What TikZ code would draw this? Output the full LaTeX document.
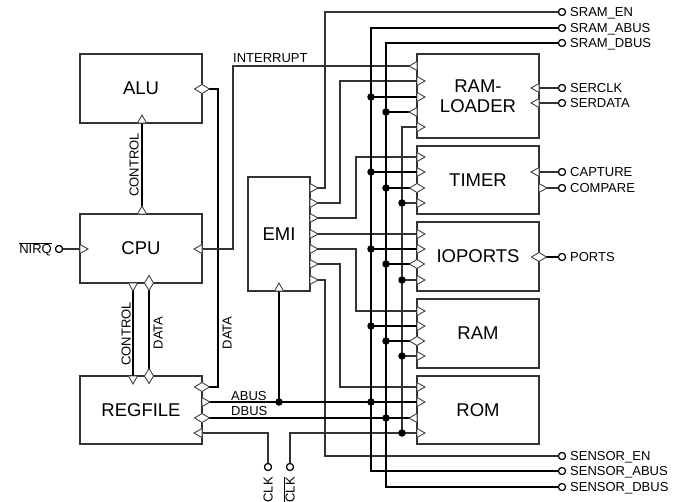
\documentclass[tikz,border=0pt]{standalone}
\usepackage{fontspec}
\setmainfont{Liberation Sans}
\usetikzlibrary{calc}
\begin{document}
\begin{tikzpicture}[x=1pt,y=-1pt,
  thinwire/.style={draw=black!80,line width=1.2pt},
  bus/.style={draw=black,line width=2.8pt},
  block/.style={draw=black!80,line width=1.2pt,fill=white,inner sep=0pt,
    font=\fontsize{18.5}{20}\selectfont,align=center},
  portst/.style={draw=black!75,line width=0.9pt,fill=white,line join=miter},
  dot/.style={circle,fill=black,inner sep=0pt,minimum size=7.5pt},
  pin/.style={circle,draw=black,line width=1.1pt,fill=white,inner sep=0pt,minimum size=7pt},
  lbl/.style={font=\fontsize{13}{14}\selectfont,inner sep=0pt},
  pics/tri/.style={code={\filldraw[portst] (0,-4.5) -- (8,0) -- (0,4.5) -- cycle;}},
  pics/dia/.style={code={\filldraw[portst] (-7.5,0) -- (0,-4.5) -- (7.5,0) -- (0,4.5) -- cycle;}},
]
\useasboundingbox (0,0) rectangle (679,501);

% ---------- blocks
\node[block,minimum width=122pt,minimum height=69pt] (alu) at (141,88.5) {ALU};
\node[block,minimum width=122pt,minimum height=69pt] (cpu) at (141,248.5) {CPU};
\node[block,minimum width=122pt,minimum height=68pt] (regfile) at (141,410) {REGFILE};
\node[block,minimum width=62pt,minimum height=114pt] (emi) at (279,234) {EMI};
\node[block,minimum width=122pt,minimum height=84pt] (ramloader) at (478,96) {RAM-\\LOADER};
\node[block,minimum width=122pt,minimum height=68pt] (timer) at (478,180) {TIMER};
\node[block,minimum width=122pt,minimum height=69pt] (ioports) at (478,256.5) {IOPORTS};
\node[block,minimum width=122pt,minimum height=69pt] (ram) at (478,333.5) {RAM};
\node[block,minimum width=122pt,minimum height=68pt] (rom) at (478,410) {ROM};

% ---------- port coordinates
\coordinate (aluD) at (202,89);
\coordinate (aluC) at (142,123);
\coordinate (cpuC) at (142,214);
\coordinate (cpuI) at (202,249);
\coordinate (cpuN) at (80,249);
\coordinate (cpuC2) at (133,283);
\coordinate (cpuDt) at (149,283);
\coordinate (rfC) at (133,376);
\coordinate (rfDt) at (149,376);
\coordinate (rfD) at (202,387);
\coordinate (rfA) at (202,402);
\coordinate (rfDB) at (202,418);
\coordinate (rfK) at (202,433);
\foreach \n/\y in {1/188,2/203,3/218,4/234,5/249,6/264,7/280}{\coordinate (e\n) at (310,\y);}
\coordinate (emiB) at (279,291);
\foreach \n/\y in {1/66,2/81,3/97,4/112,5/127}{\coordinate (rl\n) at (417,\y);}
\foreach \n/\y in {1/157,2/172,3/188,4/203}{\coordinate (tm\n) at (417,\y);}
\foreach \n/\y in {1/234,2/249,3/264,4/280}{\coordinate (io\n) at (417,\y);}
\foreach \n/\y in {1/311,2/326,3/341,4/356}{\coordinate (ram\n) at (417,\y);}
\foreach \n/\y in {1/387,2/402,3/418,4/433}{\coordinate (rom\n) at (417,\y);}
\coordinate (rlS1) at (539,88);
\coordinate (rlS2) at (539,103);
\coordinate (tmC) at (539,172);
\coordinate (tmP) at (539,188);
\coordinate (ioP) at (539,257);

% bus junctions
\foreach \n/\y in {1/97,2/172,3/249,4/326,5/402}{\coordinate (aD\n) at (371,\y);}
\foreach \n/\y in {1/112,2/188,3/264,4/341,5/418}{\coordinate (dD\n) at (386,\y);}
\foreach \n/\y in {1/203,2/280,3/356,4/433}{\coordinate (cD\n) at (402,\y);}
\coordinate (abusJ) at (279,402);

% ---------- pins
\node[pin] (nirq) at (59,249) {};
\node[pin] (sramen) at (562,12) {};
\node[pin] (sramabus) at (562,28) {};
\node[pin] (sramdbus) at (562,43) {};
\node[pin] (serclk) at (562,88) {};
\node[pin] (serdata) at (562,103) {};
\node[pin] (capture) at (562,172) {};
\node[pin] (compare) at (562,188) {};
\node[pin] (ports) at (562,257) {};
\node[pin] (senen) at (562,456) {};
\node[pin] (senabus) at (562,471) {};
\node[pin] (sendbus) at (562,487) {};
\node[pin] (clkpin) at (268,467) {};
\node[pin] (nclkpin) at (290,467) {};

% ---------- wires
\draw[bus] (aluD) -- ++(16,0) |- (rfD);
\draw[thinwire] (cpuI) -- ++(31,0) |- (rl1);
\draw[bus] (cpuC) -- (aluC);
\draw[bus] (cpuC2) -- (rfC);
\draw[bus] (cpuDt) -- (rfDt);
\draw[thinwire] (nirq) -- (cpuN);

\draw[thinwire] (e1) -- ++(15,0) |- (sramen);
\draw[thinwire] (e2) -- ++(30,0) |- (rl2);
\draw[thinwire] (e3) -- ++(46,0) |- (tm1);
\draw[thinwire] (e4) -- (io1);
\draw[thinwire] (e5) -- ++(46,0) |- (ram1);
\draw[thinwire] (e6) -- ++(30,0) |- (rom1);
\draw[thinwire] (e7) -- ++(15,0) |- (senen);

\draw[thinwire] (rl5) -| (cD4);
\draw[thinwire] (nclkpin) |- (rom4);
\draw[thinwire] (rfK) -| (clkpin);
\foreach \a/\b in {cD1/tm4,cD2/io4,cD3/ram4}{\draw[thinwire] (\a) -- (\b);}

\draw[bus] (emiB) -- (abusJ);
\draw[bus] (rfA) -- (rom2);
\draw[bus] (rfDB) -- (rom3);
\draw[bus] (sramabus) -| (aD3) |- (senabus);
\draw[bus] (sramdbus) -| (dD3) |- (sendbus);
\foreach \a/\b in {aD1/rl3,aD2/tm2,aD3/io2,aD4/ram2}{\draw[bus] (\a) -- (\b);}
\foreach \a/\b in {dD1/rl4,dD2/tm3,dD3/io3,dD4/ram3}{\draw[bus] (\a) -- (\b);}

\draw[thinwire] (rlS1) -- (serclk);
\draw[thinwire] (rlS2) -- (serdata);
\draw[thinwire] (tmC) -- (capture);
\draw[thinwire] (tmP) -- (compare);
\draw[bus] (ioP) -- (ports);

% redraw pins on top
\foreach \p in {nirq,sramen,sramabus,sramdbus,serclk,serdata,capture,compare,ports,senen,senabus,sendbus,clkpin,nclkpin}
  {\node[pin] at (\p) {};}

% ---------- port markers
\pic at (aluD) {dia};
\pic[rotate=90] at (aluC) {tri};
\pic[rotate=90] at (cpuC) {tri};
\pic[rotate=180] at (cpuI) {tri};
\pic at (cpuN) {tri};
\pic[rotate=-90] at (cpuC2) {tri};
\pic[rotate=90] at (cpuDt) {dia};
\pic[rotate=-90] at (rfC) {tri};
\pic[rotate=90] at (rfDt) {dia};
\pic at (rfD) {dia};
\pic at (rfA) {tri};
\pic at (rfDB) {dia};
\pic[rotate=180] at (rfK) {tri};
\foreach \n in {1,...,7}{\pic at (e\n) {tri};}
\pic[rotate=90] at (emiB) {tri};
\pic[rotate=180] at (rl1) {tri};
\pic at (rl2) {tri};
\pic at (rl3) {tri};
\pic[rotate=180] at (rl4) {tri};
\pic at (rl5) {tri};
\foreach \b in {tm,io,ram}{\pic at (\b1) {tri}; \pic at (\b2) {tri}; \pic at (\b3) {dia}; \pic at (\b4) {tri};}
\pic at (rom1) {tri};
\pic at (rom2) {tri};
\pic[rotate=180] at (rom3) {tri};
\pic at (rom4) {tri};
\pic[rotate=180] at (rlS1) {tri};
\pic[rotate=180] at (rlS2) {tri};
\pic[rotate=180] at (tmC) {tri};
\pic at (tmP) {tri};
\pic at (ioP) {dia};

% ---------- junction dots
\foreach \p in {aD1,aD2,aD3,aD4,aD5,dD1,dD2,dD3,dD4,dD5,cD1,cD2,cD3,cD4,abusJ}{\node[dot] at (\p) {};}

% ---------- labels
\node[lbl,anchor=base west] at (233,62) {INTERRUPT};
\node[lbl,anchor=base west] at (231,400) {ABUS};
\node[lbl,anchor=base west] at (231,415.5) {DBUS};
\node[lbl,anchor=base east] at (52,253.7) {$\overline{\mbox{NIRQ}}$};
\node[lbl,rotate=90,anchor=base] at (138.5,165) {CONTROL};
\node[lbl,rotate=90,anchor=base] at (130.5,334) {CONTROL};
\node[lbl,rotate=90,anchor=base] at (162.5,333) {DATA};
\node[lbl,rotate=90,anchor=base] at (231.5,333) {DATA};
\node[lbl,rotate=90,anchor=base east] at (272.7,477) {CLK};
\node[lbl,rotate=90,anchor=base east] at (294.7,477) {$\overline{\mbox{CLK}}$};
\foreach \p/\t in {sramen/SRAM\_EN,sramabus/SRAM\_ABUS,sramdbus/SRAM\_DBUS,serclk/SERCLK,serdata/SERDATA,capture/CAPTURE,compare/COMPARE,ports/PORTS,senen/SENSOR\_EN,senabus/SENSOR\_ABUS,sendbus/SENSOR\_DBUS}
  {\node[lbl,anchor=base west] at ($(\p)+(8,4.7)$) {\t};}
\end{tikzpicture}
\end{document}
